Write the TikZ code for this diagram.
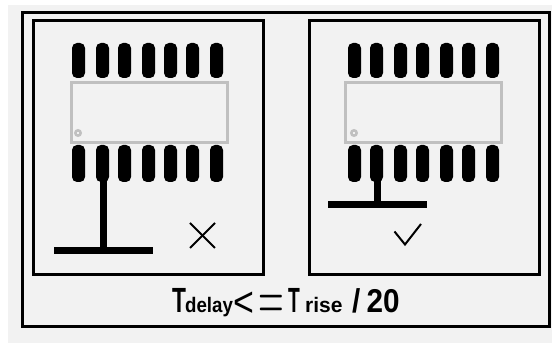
\documentclass[tikz,border=0pt]{standalone}
\usepackage{fontspec}
\setmainfont{Liberation Sans}
\definecolor{bgc}{HTML}{F2F2F2}
\definecolor{chipc}{HTML}{C0C0C0}
\tikzset{
  frame/.style={draw=black,line width=3pt},
  chip/.style={draw=chipc,line width=3pt},
  dot1/.style={draw=chipc,line width=2.5pt},
  pin/.style={fill=black,rounded corners=5pt},
  trace/.style={fill=black},
  mark1/.style={draw=black,line width=2pt},
  big/.style={inner sep=0pt,anchor=base west,font=\fontsize{35}{35}\selectfont\bfseries,transform shape},
  small/.style={inner sep=0pt,anchor=base west,font=\fontsize{21}{21}\selectfont\bfseries,transform shape}
}
\begin{document}
\begin{tikzpicture}[x=1pt,y=-1pt]
\useasboundingbox (0,0) rectangle (552,344);
\fill[white] (0,0) rectangle (552,344);
\fill[bgc] (8,5) rectangle (552,343);
\draw[frame] (22.5,12.5) rectangle (549.5,326.5);
\draw[frame] (33.5,20.5) rectangle (263.5,274.5);
\draw[frame] (309.5,20.5) rectangle (539.5,274.5);
% left chip
\foreach \x in {72,96,118,142,164,186,210}{
  \fill[pin] (\x,43) rectangle (\x+13,78);
  \fill[pin] (\x,145) rectangle (\x+13,182);
}
\draw[chip] (71.5,82.5) rectangle (227.5,142.5);
\draw[dot1] (78,133) circle (2.7);
\fill[trace] (100,178) rectangle (107,248);
\fill[trace] (54,247) rectangle (153,254);
\draw[mark1] (190,223) -- (215,248);
\draw[mark1] (215,223) -- (190,248);
% right chip
\foreach \x in {348,370,394,416,440,462,486}{
  \fill[pin] (\x,43) rectangle (\x+13,78);
  \fill[pin] (\x,145) rectangle (\x+13,182);
}
\draw[chip] (345.5,82.5) rectangle (501.5,142.5);
\draw[dot1] (354,133) circle (2.7);
\fill[trace] (374,178) rectangle (381,202);
\fill[trace] (328,201) rectangle (427,208);
\draw[mark1] (394.5,231.5) -- (405,244.5) -- (421,224);
% text
\node[big,xscale=0.65] (t1) at (172,313) {T};
\node[small,xscale=0.89] (t2) at (185,313) {delay};
\node[big,font=\fontsize{42}{42}\selectfont,xscale=0.85] (t3) at (233,317) {<};
\node[inner sep=0pt,anchor=base west,transform shape,xscale=3.3,yscale=6.6] (t4) at (258,320) {$=$};
\node[big,xscale=0.55] (t5) at (288,313) {T};
\node[small] (t6) at (305,313) {rise};
\node[big,font=\fontsize{33}{33}\selectfont\bfseries,xscale=0.9] (t7) at (352,313) {/\kern7pt 20};
\end{tikzpicture}
\end{document}
